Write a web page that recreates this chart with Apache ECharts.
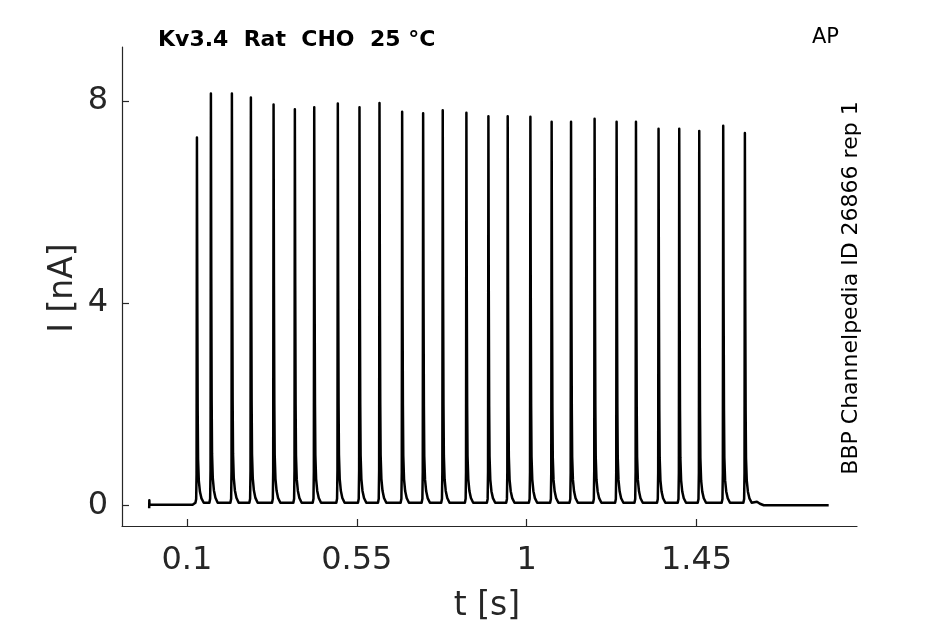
<!DOCTYPE html>
<html>
<head>
<meta charset="utf-8">
<script src="https://cdn.jsdelivr.net/npm/echarts@6/dist/echarts.min.js"></script>
<style>
html,body{margin:0;padding:0;background:#fff;}
#chart{width:945px;height:624px;}
</style>
</head>
<body>
<div id="chart"></div>
<script>
// ---- data ----
// spike (AP) peak times in seconds
var spikeTimes = [0.1265, 0.1635, 0.2191, 0.2694, 0.3295, 0.3859, 0.4372, 0.4997, 0.5571, 0.6101,
  0.6701, 0.7257, 0.7776, 0.8403, 0.8986, 0.9497, 1.0098, 1.0661, 1.1175, 1.1799,
  1.2382, 1.2895, 1.3493, 1.4041, 1.4571, 1.5206, 1.5780];
// spike peak currents in nA
var spikePeaks = [7.28, 8.15, 8.15, 8.07, 7.93, 7.84, 7.88, 7.95, 7.88, 7.96,
  7.79, 7.76, 7.82, 7.77, 7.70, 7.70, 7.69, 7.59, 7.59, 7.65,
  7.59, 7.59, 7.45, 7.45, 7.41, 7.51, 7.37];
// shape of one spike: offsets (ms) from peak and fraction of peak above inter-spike level
var shapeOffsetMs = [-4, -2, -1, 0, 1, 2, 3, 5, 8, 12, 18];
var shapeFrac = [0, 0.01, 0.08, 1, 0.55, 0.25, 0.12, 0.06, 0.03, 0.012, 0];
var interSpikeLevel = 0.05;
// holding segments before and after the train
var preTimes = [0, 0.0004, 0.0008, 0.002, 0.115];
var preValues = [-0.06, 0.1, 0.01, 0.01, 0.01];
var postTimes = [1.600, 1.610, 1.618, 1.628, 1.800];
var postValues = [0.07, 0.07, 0.03, 0.0, 0.0];
// axis ticks
var xTicks = [0.1, 0.55, 1, 1.45];
var yTicks = [0, 4, 8];

// ---- build trace ----
var trace = [];
for (var i = 0; i < preTimes.length; i++) trace.push([preTimes[i], preValues[i]]);
for (var s = 0; s < spikeTimes.length; s++) {
  for (var k = 0; k < shapeOffsetMs.length; k++) {
    var v = interSpikeLevel + shapeFrac[k] * (spikePeaks[s] - interSpikeLevel);
    trace.push([spikeTimes[s] + shapeOffsetMs[k] / 1000, v]);
  }
}
for (var j = 0; j < postTimes.length; j++) trace.push([postTimes[j], postValues[j]]);

var axisCol = '#262626';
var font = 'DejaVu Sans';
var chart = echarts.init(document.getElementById('chart'), null, {renderer: 'canvas'});
chart.setOption({
  animation: false,
  backgroundColor: '#fff',
  grid: {left: 122, right: 88, top: 47, bottom: 98, containLabel: false},
  xAxis: {
    type: 'value', min: -0.072, max: 1.875,
    axisLine: {show: true, onZero: false, lineStyle: {color: axisCol, width: 1.2}},
    axisTick: {show: true, inside: true, length: 7, customValues: xTicks, lineStyle: {color: axisCol, width: 1.2}},
    axisLabel: {customValues: xTicks, color: axisCol, fontFamily: font, fontSize: 32, margin: 19},
    splitLine: {show: false}
  },
  yAxis: {
    type: 'value', min: -0.41, max: 9.07,
    axisLine: {show: true, onZero: false, lineStyle: {color: axisCol, width: 1.2}},
    axisTick: {show: true, inside: true, length: 7, customValues: yTicks, lineStyle: {color: axisCol, width: 1.2}},
    axisLabel: {customValues: yTicks, color: axisCol, fontFamily: font, fontSize: 32, margin: 14},
    splitLine: {show: false}
  },
  series: [{
    type: 'line', data: trace, showSymbol: false, symbol: 'none',
    lineStyle: {color: '#000', width: 2.5, join: 'round'},
    clip: true
  }],
  graphic: [
    {type: 'text', x: 158, y: 40, style: {text: 'Kv3.4  Rat  CHO  25 °C', font: 'bold 22px "DejaVu Sans"', fill: '#000', verticalAlign: 'middle'}},
    {type: 'text', x: 839, y: 38, style: {text: 'AP', font: '21px "DejaVu Sans"', fill: '#000', align: 'right', verticalAlign: 'middle'}},
    {type: 'text', x: 851, y: 288, rotation: Math.PI / 2, style: {text: 'BBP Channelpedia ID 26866 rep 1', font: '22px "DejaVu Sans"', fill: '#000', align: 'center', verticalAlign: 'middle'}},
    {type: 'text', x: 63, y: 288, rotation: Math.PI / 2, style: {text: 'I [nA]', font: '33px "DejaVu Sans"', fill: axisCol, align: 'center', verticalAlign: 'middle'}},
    {type: 'text', x: 487, y: 606, style: {text: 't [s]', font: '33px "DejaVu Sans"', fill: axisCol, align: 'center', verticalAlign: 'middle'}}
  ]
});
</script>
</body>
</html>
